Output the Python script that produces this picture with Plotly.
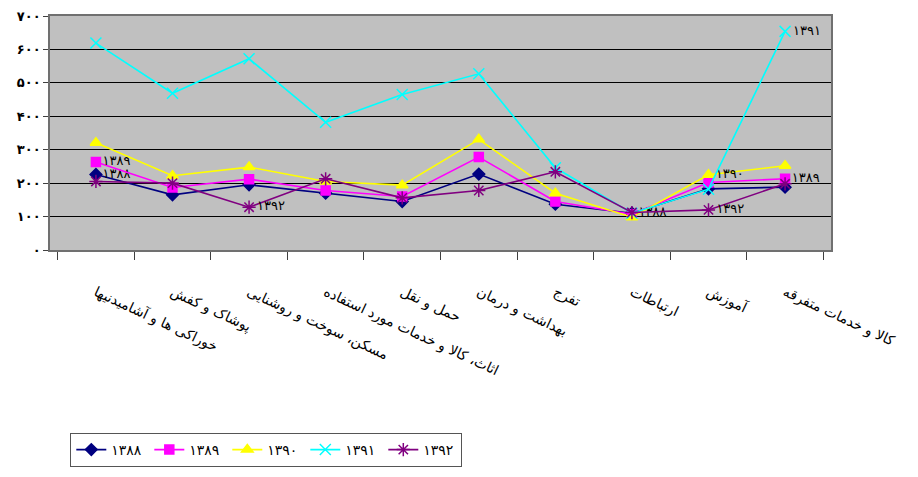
import plotly.graph_objects as go

categories = [
    "خوراکی ها و آشامیدنیها",
    "پوشاک و کفش",
    "مسکن، سوخت و روشنایی",
    "اثاث، کالا و خدمات مورد استفاده",
    "حمل و نقل",
    "بهداشت و درمان",
    "تفرج",
    "ارتباطات",
    "آموزش",
    "کالا و خدمات متفرقه",
]

series_names = ["۱۳۸۸", "۱۳۸۹", "۱۳۹۰", "۱۳۹۱", "۱۳۹۲"]

values_1388 = [226, 165, 195, 170, 145, 227, 137, 110, 183, 188]
values_1389 = [263, 187, 212, 178, 160, 278, 145, 107, 202, 213]
values_1390 = [321, 222, 248, 205, 194, 331, 170, 98, 225, 252]
values_1391 = [619, 469, 572, 382, 465, 527, 246, 110, 182, 654]
values_1392 = [205, 200, 128, 213, 156, 178, 234, 112, 120, 198]

labels_1388 = ["۱۳۸۸", "", "", "", "", "", "", "۱۳۸۸", "", ""]
labels_1389 = ["۱۳۸۹", "", "", "", "", "", "", "", "", "۱۳۸۹"]
labels_1390 = ["", "", "", "", "", "", "", "", "۱۳۹۰", ""]
labels_1391 = ["", "", "", "", "", "", "", "", "", "۱۳۹۱"]
labels_1392 = ["", "", "۱۳۹۲", "", "", "", "", "", "۱۳۹۲", ""]

y_tick_values = [0, 100, 200, 300, 400, 500, 600, 700]
y_tick_labels = ["۰", "۱۰۰", "۲۰۰", "۳۰۰", "۴۰۰", "۵۰۰", "۶۰۰", "۷۰۰"]

all_values = [values_1388, values_1389, values_1390, values_1391, values_1392]
all_labels = [labels_1388, labels_1389, labels_1390, labels_1391, labels_1392]
colors = ["#000080", "#FF00FF", "#FFFF00", "#00FFFF", "#800080"]
symbols = ["diamond", "square", "triangle-up", "x-thin-open", "asterisk-open"]
msizes = [9, 9, 10, 11, 11]

FONT = "DejaVu Sans"

fig = go.Figure()
for name, vals, labs, col, sym, ms in zip(series_names, all_values, all_labels, colors, symbols, msizes):
    fig.add_trace(go.Scatter(
        x=categories, y=vals, name=name,
        mode="lines+markers+text",
        text=labs, textposition="middle right",
        textfont=dict(family=FONT, size=13, color="black"),
        line=dict(color=col, width=1.6),
        marker=dict(symbol=sym, size=ms, color=col, line=dict(color=col, width=1.5)),
        cliponaxis=True,
    ))

fig.update_layout(
    width=918, height=477,
    margin=dict(l=50, r=87, t=16, b=227, autoexpand=False),
    paper_bgcolor="white",
    plot_bgcolor="#C0C0C0",
    font=dict(family=FONT, color="black"),
    showlegend=True,
    legend=dict(
        orientation="h",
        x=0.026, xanchor="left",
        y=-0.782, yanchor="top",
        bordercolor="#555555", borderwidth=1,
        bgcolor="white",
        font=dict(family=FONT, size=14, color="black"),
        entrywidth=33, entrywidthmode="pixels",
        itemwidth=30,
    ),
)

fig.update_xaxes(
    type="category",
    tickangle=25,
    tickson="boundaries",
    ticks="outside", ticklen=8, tickcolor="#404040",
    showline=True, linecolor="#707070", linewidth=1.5, mirror=True,
    showgrid=False,
    ticklabelstandoff=27,
    tickfont=dict(family=FONT, size=14, color="black"),
    automargin=False,
)
fig.update_yaxes(
    range=[0, 700],
    tickvals=y_tick_values, ticktext=y_tick_labels,
    ticks="outside", ticklen=5, tickcolor="#404040",
    showline=True, linecolor="#707070", linewidth=1.5, mirror=True,
    showgrid=True, gridcolor="black", gridwidth=1.2,
    zeroline=False,
    tickfont=dict(family=FONT, size=13, color="black", weight="bold"),
    automargin=False,
)

fig.write_html(
    "out.html",
    config={"responsive": False, "displayModeBar": False},
    post_script="document.body.style.margin='0';document.body.style.overflow='hidden';",
)
